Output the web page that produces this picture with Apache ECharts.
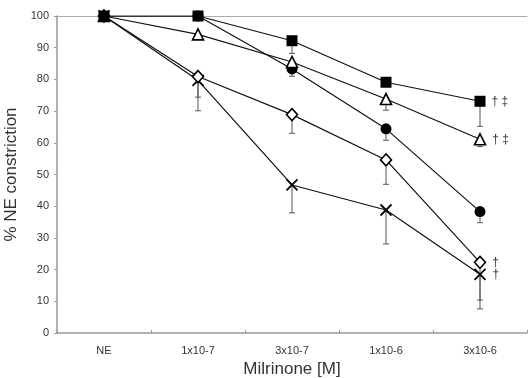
<!DOCTYPE html>
<html><head><meta charset="utf-8">
<script src="https://cdn.jsdelivr.net/npm/echarts@6/dist/echarts.min.js"></script>
<style>html,body{margin:0;padding:0;background:#fff}#c{width:530px;height:378px}</style>
</head><body><div id="c"></div>
<script>
var categories = ['NE', '1x10-7', '3x10-7', '1x10-6', '3x10-6'];
var yTicks = [0, 100, 10];
var squareVals = [100, 100, 92.2, 79.1, 73.1];
var squareLow  = [null, null, 88.2, null, 65.2];
var triVals    = [100, 94.2, 85.5, 73.8, 61.1];
var triLow     = [null, null, null, 70.3, 58.8];
var circleVals = [100, 100, 83.3, 64.4, 38.3];
var circleLow  = [null, null, 81.0, 60.8, 34.8];
var diamondVals= [100, 80.9, 68.9, 54.6, 22.3];
var diamondLow = [null, 74.4, 63.0, 46.9, 10.4];
var crossVals  = [100, 79.7, 46.7, 38.8, 18.5];
var crossLow   = [null, 70.1, 37.9, 28.1, 7.6];
var annotations = {square: '† ‡', tri: '† ‡', diamond: '†', cross: '†'};

var chart = echarts.init(document.getElementById('c'));
var font = 'Liberation Sans, Arial, sans-serif';

function errSeries(vals, low) {
  var data = [];
  for (var i = 0; i < vals.length; i++) {
    if (low[i] != null) data.push([i, vals[i], low[i]]);
  }
  return {
    type: 'custom', z: 1, silent: true,
    renderItem: function (params, api) {
      var top = api.coord([api.value(0), api.value(1)]);
      var bot = api.coord([api.value(0), api.value(2)]);
      var st = {stroke: '#555', lineWidth: 1};
      return {type: 'group', children: [
        {type: 'line', shape: {x1: top[0], y1: top[1], x2: bot[0], y2: bot[1]}, style: st},
        {type: 'line', shape: {x1: bot[0] - 3, y1: bot[1], x2: bot[0] + 3, y2: bot[1]}, style: st}
      ]};
    },
    data: data
  };
}

function lineSeries(vals, symbol, size, fill, ann) {
  var data = vals.map(function (v, i) {
    var d = {value: v};
    if (ann && i === vals.length - 1) {
      d.label = {show: true, position: 'right', distance: 6, formatter: ann,
        fontSize: 12, color: '#333', fontFamily: font};
    }
    return d;
  });
  return {
    type: 'line', z: 3, data: data, symbol: symbol, symbolSize: size,
    showAllSymbol: true,
    lineStyle: {color: '#111', width: 1.2},
    itemStyle: {color: fill, borderColor: '#000', borderWidth: fill === '#000' ? 0 : 1.6},
    emphasis: {disabled: true}
  };
}

var crossSeries = lineSeries(crossVals, 'path://M0,0L10,10M10,0L0,10', 11, 'transparent', annotations.cross);
crossSeries.itemStyle = {color: 'transparent', borderColor: '#000', borderWidth: 1.8};

chart.setOption({
  animation: false,
  grid: {left: 57, right: 3, top: 16, bottom: 45, outerBoundsMode: 'none', containLabel: false},
  xAxis: [{
    type: 'category', data: categories, boundaryGap: true,
    axisLine: {lineStyle: {color: '#999', width: 1.5}},
    axisTick: {show: true, inside: true, length: 3, lineStyle: {color: '#999'}},
    axisLabel: {color: '#333', fontSize: 11, fontFamily: font, margin: 12},
    name: 'Milrinone [M]', nameLocation: 'middle', nameGap: 28,
    nameTextStyle: {color: '#333', fontSize: 17, fontFamily: font}
  }, {
    type: 'category', data: categories, position: 'top',
    axisLine: {lineStyle: {color: '#aaa', width: 1}},
    axisTick: {show: false}, axisLabel: {show: false}
  }],
  yAxis: {
    type: 'value', min: yTicks[0], max: yTicks[1], interval: yTicks[2],
    axisLine: {show: true, lineStyle: {color: '#999', width: 1.5}},
    axisTick: {show: true, length: 3, lineStyle: {color: '#999'}},
    splitLine: {show: false},
    axisLabel: {color: '#333', fontSize: 11, fontFamily: font, margin: 8},
    name: '% NE constriction', nameLocation: 'middle', nameGap: 33,
    nameTextStyle: {color: '#333', fontSize: 17, fontFamily: font}
  },
  series: [
    errSeries(squareVals, squareLow),
    errSeries(triVals, triLow),
    errSeries(circleVals, circleLow),
    errSeries(diamondVals, diamondLow),
    errSeries(crossVals, crossLow),
    crossSeries,
    lineSeries(diamondVals, 'diamond', [11, 12], '#fff', annotations.diamond),
    lineSeries(circleVals, 'circle', 11, '#000', null),
    lineSeries(triVals, 'triangle', [11, 11], '#fff', annotations.tri),
    lineSeries(squareVals, 'rect', 11, '#000', annotations.square)
  ]
});
</script></body></html>
